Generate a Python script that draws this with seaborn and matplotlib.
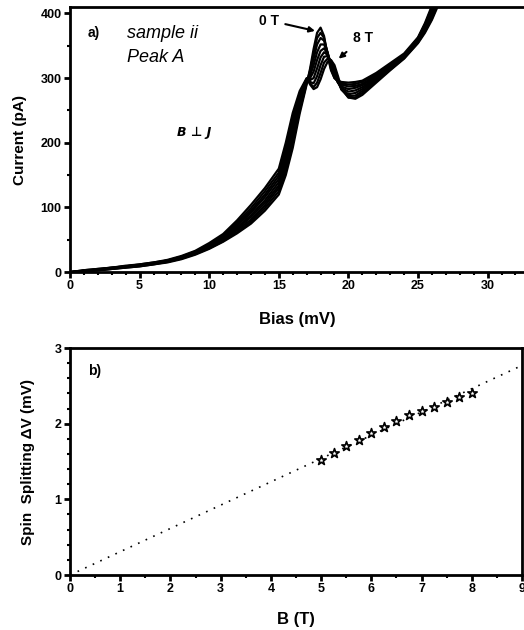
import numpy as np
import pandas as pd
import matplotlib.pyplot as plt
import seaborn as sns
from matplotlib.ticker import MultipleLocator

# --------------------------------------------------------------
# Data
# --------------------------------------------------------------
bias = [0, 1, 2, 3, 4, 5, 6, 7, 8, 9, 10, 11, 12, 13, 14, 15, 15.5, 16,
        16.5, 17, 17.25, 17.5, 17.75, 18, 18.25, 18.5, 18.75, 19, 19.25,
        19.5, 20, 20.5, 21, 22, 23, 24, 25, 25.5, 26, 27]

# current (pA) for each field value
cur_0T = [0, 1, 3, 5, 7, 9, 12, 15, 20, 27, 36, 47, 60, 75, 95, 120, 150, 192,
          245, 290, 315, 345, 370, 378, 365, 335, 312, 300, 296, 294, 293, 294,
          296, 308, 323, 338, 363, 385, 412, 470]
cur_1T = [0, 1, 3, 5, 7, 9, 12, 16, 21, 28, 37, 48, 62, 78, 99, 125, 157, 199,
          250, 292, 312, 338, 362, 370, 362, 338, 314, 300, 295, 292, 290, 291,
          294, 306, 321, 336, 362, 383, 409, 466]
cur_2T = [0, 2, 3, 5, 8, 10, 13, 16, 21, 29, 38, 50, 65, 81, 103, 130, 163, 206,
          254, 294, 308, 330, 352, 362, 358, 340, 318, 302, 294, 290, 287, 288,
          291, 304, 320, 335, 361, 381, 406, 462]
cur_3T = [0, 2, 4, 6, 8, 10, 13, 17, 22, 29, 39, 51, 67, 85, 107, 134, 169, 212,
          258, 295, 304, 320, 340, 352, 352, 340, 320, 304, 293, 287, 283, 285,
          289, 302, 318, 334, 360, 379, 403, 458]
cur_4T = [0, 2, 4, 6, 8, 11, 14, 17, 22, 30, 40, 53, 69, 88, 111, 139, 175, 219,
          262, 296, 300, 310, 328, 342, 346, 338, 322, 306, 293, 285, 279, 281,
          286, 300, 317, 333, 359, 377, 400, 455]
cur_5T = [0, 2, 4, 6, 9, 11, 14, 18, 23, 31, 41, 54, 72, 92, 116, 144, 181, 226,
          266, 297, 297, 300, 315, 332, 340, 336, 324, 309, 294, 283, 275, 277,
          283, 299, 316, 332, 358, 375, 398, 451]
cur_6T = [0, 2, 4, 7, 9, 11, 14, 18, 24, 31, 42, 56, 74, 95, 120, 149, 187, 232,
          271, 298, 294, 292, 303, 320, 333, 334, 326, 312, 296, 282, 272, 273,
          280, 297, 315, 331, 357, 374, 395, 447]
cur_7T = [0, 3, 5, 7, 9, 12, 15, 18, 24, 32, 43, 57, 77, 99, 125, 154, 193, 239,
          276, 299, 292, 286, 293, 308, 324, 330, 327, 316, 299, 283, 270, 270,
          277, 295, 313, 331, 355, 372, 392, 444]
cur_8T = [0, 3, 5, 7, 10, 12, 15, 19, 25, 33, 45, 59, 80, 104, 130, 160, 200, 246,
          280, 300, 290, 283, 286, 298, 314, 325, 328, 320, 303, 285, 270, 268,
          274, 293, 312, 330, 354, 370, 390, 440]

fields = ["0 T", "1 T", "2 T", "3 T", "4 T", "5 T", "6 T", "7 T", "8 T"]
currents = [cur_0T, cur_1T, cur_2T, cur_3T, cur_4T, cur_5T, cur_6T, cur_7T, cur_8T]

# spin splitting vs field
b_field = [5.0, 5.25, 5.5, 5.75, 6.0, 6.25, 6.5, 6.75, 7.0, 7.25, 7.5, 7.75, 8.0]
splitting = [1.52, 1.61, 1.70, 1.79, 1.88, 1.95, 2.03, 2.11, 2.17, 2.22, 2.29, 2.35, 2.40]

# linear fit line
b_fit = [0, 9]
split_fit = [0, 2.77]

iv = pd.DataFrame(
    [(b, f, c) for f, cur in zip(fields, currents) for b, c in zip(bias, cur)],
    columns=["Bias", "Field", "Current"],
)
spin = pd.DataFrame({"B": b_field, "dV": splitting})
fit = pd.DataFrame({"B": b_fit, "dV": split_fit})

# --------------------------------------------------------------
# Plot
# --------------------------------------------------------------
sns.set_style("ticks")
plt.rcParams["font.family"] = ["Liberation Sans", "DejaVu Sans"]
plt.rcParams["text.color"] = "black"
plt.rcParams["axes.labelcolor"] = "black"

fig = plt.figure(figsize=(5.24, 6.3), dpi=100)
ax1 = fig.add_axes([0.1336, 0.568, 0.866, 0.421])
ax2 = fig.add_axes([0.1336, 0.0873, 0.8626, 0.3603])

sns.lineplot(
    data=iv, x="Bias", y="Current", hue="Field", sort=False,
    palette=["black"] * len(fields), linewidth=1.6, legend=False, ax=ax1,
)
ax1.set_xlim(0, 32.6)
ax1.set_ylim(0, 410)
ax1.xaxis.set_major_locator(MultipleLocator(5))
ax1.xaxis.set_minor_locator(MultipleLocator(1))
ax1.yaxis.set_major_locator(MultipleLocator(100))
ax1.yaxis.set_minor_locator(MultipleLocator(50))
ax1.set_xlabel("Bias (mV)", fontsize=12, fontweight="bold", labelpad=14)
ax1.set_ylabel("Current (pA)", fontsize=11, fontweight="bold", labelpad=10)
ax1.spines["right"].set_visible(False)

ax1.text(1.3, 369, "a)", fontsize=10, fontweight="bold", va="center")
ax1.text(4.1, 369, "sample ii", fontsize=13, style="italic", va="center")
ax1.text(4.1, 332, "Peak A", fontsize=13, style="italic", va="center")
ax1.text(7.7, 216, "B \u22a5 J", fontsize=9, style="italic", fontweight="bold",
         va="center", family=["DejaVu Sans"])
ax1.annotate("0 T", xy=(17.6, 373), xytext=(13.6, 389), fontsize=10,
             fontweight="bold", va="center",
             arrowprops=dict(arrowstyle="-|>", color="black", lw=1.5,
                             shrinkA=2, shrinkB=0, mutation_scale=8))
ax1.annotate("8 T", xy=(19.3, 330), xytext=(20.3, 362), fontsize=10,
             fontweight="bold", va="center",
             arrowprops=dict(arrowstyle="-|>", color="black", lw=1.5,
                             shrinkA=4, shrinkB=0, mutation_scale=8))

sns.lineplot(data=fit, x="B", y="dV", color="black", linestyle=(0, (1, 4)),
             linewidth=1.2, ax=ax2)
sns.scatterplot(data=spin, x="B", y="dV", marker="*", s=50, facecolor="white",
                edgecolor="black", linewidth=1.2, zorder=3, ax=ax2)
ax2.set_xlim(0, 9)
ax2.set_ylim(0, 3)
ax2.xaxis.set_major_locator(MultipleLocator(1))
ax2.xaxis.set_minor_locator(MultipleLocator(0.5))
ax2.yaxis.set_major_locator(MultipleLocator(1))
ax2.yaxis.set_minor_locator(MultipleLocator(0.2))
ax2.set_xlabel("B (T)", fontsize=12, fontweight="bold", labelpad=12)
ax2.set_ylabel("Spin  Splitting \u0394V (mV)", fontsize=11, fontweight="bold",
               labelpad=14)
ax2.text(0.35, 2.7, "b)", fontsize=10, fontweight="bold", va="center")

for ax in (ax1, ax2):
    for s in ax.spines.values():
        s.set_linewidth(2)
        s.set_color("black")
    ax.tick_params(which="major", direction="out", length=4, width=2,
                   labelsize=9, colors="black", pad=2)
    ax.tick_params(which="minor", direction="out", length=2.5, width=1.5,
                   colors="black")
    for lab in ax.get_xticklabels() + ax.get_yticklabels():
        lab.set_fontweight("bold")

plt.savefig("out.png", dpi=100)
